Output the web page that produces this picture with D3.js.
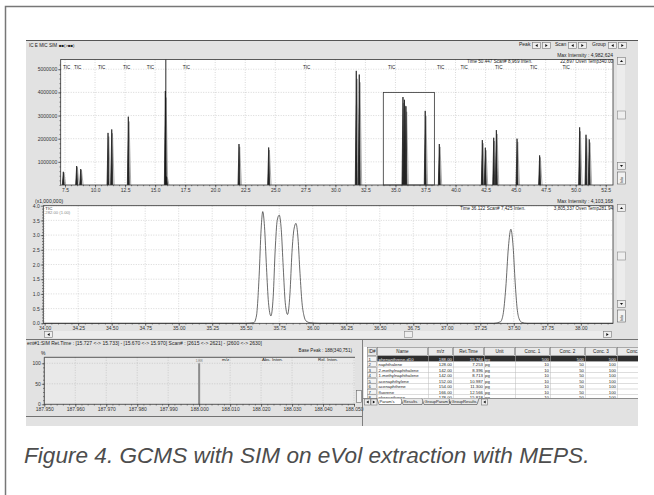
<!DOCTYPE html>
<html>
<head>
<meta charset="utf-8">
<script src="https://cdn.jsdelivr.net/npm/d3@7"></script>
<style>
  body { margin: 0; background: #fff; }
  svg { display: block; }
  text { font-family: "Liberation Sans", Arial, sans-serif; }
</style>
</head>
<body>
<div id="chart"></div>
<script>
// ---------------- data ----------------
// TIC chromatogram peaks (retention time in min, intensity in counts)
const ticTimes   = [7.36, 8.47, 8.81, 11.08, 11.39, 12.77, 15.85, 15.95, 21.98, 24.45, 31.74, 31.99,
                    35.627, 35.75, 35.875, 37.478, 38.65, 42.23, 42.48, 43.18, 43.40, 45.12, 47.0, 50.33, 50.86, 51.13];
const ticHeights = [570000, 820000, 690000, 2250000, 2400000, 2950000, 4060000, 360000, 1770000, 1620000, 4930000, 4770000,
                    3800000, 3680000, 3400000, 3200000, 1770000, 1940000, 1610000, 2040000, 2370000, 2000000, 1280000, 2490000, 2170000, 1970000];
const ticLabelTimes = [7.33, 8.25, 10.25, 12.33, 14.3, 17.3, 27.3, 34.38, 38.46, 40.41, 43.29, 46.2, 48.9];
const topXTicks = [7.5, 10, 12.5, 15, 17.5, 20, 22.5, 25, 27.5, 30, 32.5, 35, 37.5, 40, 42.5, 45, 47.5, 50, 52.5];
const topYTicks = [1000000, 2000000, 3000000, 4000000, 5000000];
const cursorTime = 15.89;
const zoomWindow = [33.99, 38.24];
const zoomMaxInten = 4000000;

// zoomed trace (x1,000,000)
const zoomTime  = [33.99, 35.50, 35.56, 35.58, 35.60, 35.615, 35.627, 35.64, 35.655, 35.67, 35.688, 35.705, 35.72, 35.735, 35.75,
                   35.765, 35.78, 35.795, 35.812, 35.83, 35.845, 35.86, 35.875, 35.89, 35.905, 35.92, 35.935, 35.95, 35.98, 36.05,
                   37.35, 37.40, 37.42, 37.44, 37.46, 37.478, 37.495, 37.51, 37.525, 37.54, 37.56, 37.60, 38.24];
const zoomInten = [0, 0, 0.02, 0.25, 1.6, 3.2, 3.80, 3.3, 1.9, 0.7, 0.25, 0.9, 2.5, 3.5, 3.68,
                   3.2, 1.9, 0.7, 0.3, 1.0, 2.4, 3.2, 3.40, 2.9, 1.7, 0.7, 0.25, 0.08, 0.02, 0,
                   0, 0.05, 0.3, 1.2, 2.6, 3.20, 2.6, 1.4, 0.5, 0.15, 0.03, 0, 0];
const zoomXTicks = [34.00, 34.25, 34.50, 34.75, 35.00, 35.25, 35.50, 35.75, 36.00, 36.25, 36.50, 36.75, 37.00, 37.25, 37.50, 37.75, 38.00];
const zoomYTicks = [0, 0.5, 1.0, 1.5, 2.0, 2.5, 3.0, 3.5, 4.0];

// mass spectrum
const specMz = [188.000];
const specRel = [100];
const specXTicks = [187.950, 187.960, 187.970, 187.980, 187.990, 188.000, 188.010, 188.020, 188.030, 188.040, 188.050];
const specYTicks = [0, 50, 100];

// compound table
const colHeads = ["ID#", "Name", "m/z", "Ret.Time", "Unit", "Conc. 1", "Conc. 2", "Conc. 3", "Conc. 4"];
const tableNames = ["phenanthrene-d10", "naphthalene", "2-methylnaphthalene", "1-methylnaphthalene", "acenaphthylene", "acenaphthene", "fluorene", "phenanthrene"];
const tableMz    = ["188.00", "128.00", "142.00", "142.00", "152.00", "154.00", "166.00", "178.00"];
const tableRt    = ["15.764", "7.253", "8.396", "8.713", "10.987", "11.300", "12.566", "15.818"];
const tableUnit  = ["pg", "pg", "pg", "pg", "pg", "pg", "pg", "pg"];
const tableConc1 = ["500", "10", "10", "10", "10", "10", "10", "10"];
const tableConc2 = ["500", "50", "50", "50", "50", "50", "50", "50"];
const tableConc3 = ["500", "100", "100", "100", "100", "100", "100", "100"];
const tabNames = ["Param's", "Results", "GroupParam's", "GroupResults"];

// ---------------- drawing ----------------
const W = 654, H = 495;
const svg = d3.select('#chart').append('svg').attr('width', W).attr('height', H);

// outer frame
svg.append('path').attr('d', 'M5.5,495 V6.5 H654').attr('fill', 'none').attr('stroke', '#777').attr('stroke-width', 1.5);

// screenshot area
const S = { x0: 26, x1: 638, y0: 40, y1: 426 };
svg.append('defs').append('clipPath').attr('id', 'shot')
    .append('rect').attr('x', S.x0).attr('y', S.y0).attr('width', S.x1 - S.x0).attr('height', S.y1 - S.y0);
const shot = svg.append('g').attr('clip-path', 'url(#shot)');
shot.append('rect').attr('x', S.x0).attr('y', S.y0).attr('width', S.x1 - S.x0).attr('height', S.y1 - S.y0).attr('fill', '#e2e2e2');
shot.append('line').attr('x1', S.x0).attr('x2', S.x1).attr('y1', S.y0 + 0.5).attr('y2', S.y0 + 0.5).attr('stroke', '#555');

const fs = 5; // tiny UI font
function txt(g, x, y, s, opts = {}) {
    return g.append('text').attr('x', x).attr('y', y).text(s)
        .attr('font-size', opts.size || fs)
        .attr('fill', opts.fill || '#222')
        .attr('text-anchor', opts.anchor || 'start');
}
function button(g, x, y, w, h, glyph) {
    g.append('rect').attr('x', x + 0.5).attr('y', y + 0.5).attr('width', w).attr('height', h)
        .attr('fill', '#eeeeee').attr('stroke', '#777').attr('stroke-width', 0.6);
    const cx = x + w / 2 + 0.5, cy = y + h / 2 + 0.5;
    let d = null;
    if (glyph === 'l') d = `M${cx + 1.2},${cy - 1.5} L${cx - 1.2},${cy} L${cx + 1.2},${cy + 1.5}Z`;
    if (glyph === 'r') d = `M${cx - 1.2},${cy - 1.5} L${cx + 1.2},${cy} L${cx - 1.2},${cy + 1.5}Z`;
    if (glyph === 'u') d = `M${cx - 1.5},${cy + 1} L${cx},${cy - 1} L${cx + 1.5},${cy + 1}Z`;
    if (glyph === 'd') d = `M${cx - 1.5},${cy - 1} L${cx},${cy + 1} L${cx + 1.5},${cy - 1}Z`;
    if (d) g.append('path').attr('d', d).attr('fill', '#111');
}
function styleAxis(a) {
    a.attr('font-size', fs).attr('font-family', '"Liberation Sans", Arial, sans-serif');
    a.select('.domain').remove();
    a.selectAll('line').attr('stroke', '#333').attr('stroke-width', 0.6);
    a.selectAll('text').attr('fill', '#333');
}
function vscroll(g, x, y0, y1, thumbY, iconY) {
    g.append('rect').attr('x', x).attr('y', y0).attr('width', 8).attr('height', y1 - y0).attr('fill', '#ececec');
    button(g, x, y0, 8, 7, 'u');
    g.append('rect').attr('x', x + 0.5).attr('y', thumbY).attr('width', 8).attr('height', 8)
        .attr('fill', '#efefef').attr('stroke', '#888').attr('stroke-width', 0.6);
    button(g, x, y1 - 8, 8, 7, 'd');
    g.append('rect').attr('x', x + 0.5).attr('y', iconY).attr('width', 8).attr('height', 12)
        .attr('fill', '#f2f2f2').attr('stroke', '#666').attr('stroke-width', 0.6);
    g.append('text').attr('transform', `translate(${x + 6},${iconY + 11}) rotate(-90)`).text('lolx')
        .attr('font-size', 4).attr('fill', '#333');
}

// ---- header bar ----
txt(shot, 29, 47, 'IC E MIC   SIM', { size: 4.6 });
txt(shot, 59, 47, '■■(>■■)', { size: 4.2 });
txt(shot, 519, 46, 'Peak');
button(shot, 532, 42, 8, 6, 'l'); button(shot, 542, 42, 8, 6, 'r');
txt(shot, 555, 46, 'Scan');
button(shot, 568, 42, 8, 6, 'l'); button(shot, 578, 42, 8, 6, 'r');
txt(shot, 592, 46, 'Group');
button(shot, 608, 42, 8, 6, 'l'); button(shot, 618, 42, 8, 6, 'r');

// ---- top TIC panel ----
const ticP = { l: 60.7, r: 613, t: 59.5, b: 185 };
const xTop = d3.scaleLinear().domain([7.142, 53.106]).range([ticP.l, ticP.r]);
const yTop = d3.scaleLinear().domain([0, 5420000]).range([ticP.b, ticP.t]);
shot.append('rect').attr('x', ticP.l).attr('y', ticP.t).attr('width', ticP.r - ticP.l).attr('height', ticP.b - ticP.t).attr('fill', '#fff');

const gridTop = shot.append('g').attr('stroke', '#bdbdbd').attr('stroke-width', 0.6).attr('stroke-dasharray', '1,1.5');
gridTop.selectAll('.v').data(topXTicks).enter().append('line')
    .attr('x1', d => xTop(d)).attr('x2', d => xTop(d)).attr('y1', ticP.t).attr('y2', ticP.b);
gridTop.selectAll('.h').data(topYTicks).enter().append('line')
    .attr('x1', ticP.l).attr('x2', ticP.r).attr('y1', d => yTop(d)).attr('y2', d => yTop(d));

txt(shot, ticP.r, 56.5, 'Max Intensity : 4,982,624', { anchor: 'end' });
txt(shot, 467, 63, 'Time  50.447    Scan# 8,969    Inten.', { size: 4.6 });
txt(shot, ticP.r, 63, '22,897    Oven Temp340.00', { anchor: 'end', size: 4.6 });
shot.selectAll('.ticlab').data(ticLabelTimes).enter().append('text')
    .attr('x', d => xTop(d)).attr('y', 68.5).text('TIC')
    .attr('font-size', 4.6).attr('fill', '#222');

// peaks: gray companion trace + dark trace
const peakLine = d3.line().x(d => xTop(d[0])).y(d => yTop(d[1]));
shot.append('g').selectAll('path').data(ticTimes).enter().append('path')
    .attr('d', (t, i) => peakLine([[t - 0.05, 0], [t + 0.06, ticHeights[i] * 0.93], [t + 0.2, 0]]))
    .attr('fill', 'none').attr('stroke', '#9a9a9a').attr('stroke-width', 0.8);
shot.append('g').selectAll('path').data(ticTimes).enter().append('path')
    .attr('d', (t, i) => peakLine([[t - 0.08, 0], [t, ticHeights[i]], [t + 0.08, 0]]))
    .attr('fill', '#222').attr('stroke', '#222').attr('stroke-width', 0.8);

// cursor and zoom box
shot.append('line').attr('x1', xTop(cursorTime)).attr('x2', xTop(cursorTime)).attr('y1', ticP.t).attr('y2', ticP.b)
    .attr('stroke', '#111').attr('stroke-width', 0.9);
shot.append('rect').attr('x', xTop(zoomWindow[0])).attr('y', yTop(zoomMaxInten))
    .attr('width', xTop(zoomWindow[1]) - xTop(zoomWindow[0])).attr('height', yTop(0) - yTop(zoomMaxInten))
    .attr('fill', 'none').attr('stroke', '#333').attr('stroke-width', 0.8);

shot.append('rect').attr('x', ticP.l).attr('y', ticP.t).attr('width', ticP.r - ticP.l).attr('height', ticP.b - ticP.t)
    .attr('fill', 'none').attr('stroke', '#333').attr('stroke-width', 0.8);
const axTopX = shot.append('g').attr('transform', `translate(0,${ticP.b})`)
    .call(d3.axisBottom(xTop).tickValues(topXTicks).tickFormat(d3.format('.1f')).tickSize(2.5).tickPadding(1));
styleAxis(axTopX);
const axTopXm = shot.append('g').attr('transform', `translate(0,${ticP.b})`)
    .call(d3.axisBottom(xTop).tickValues(d3.range(7.5, 53, 0.5)).tickFormat('').tickSize(1.2));
styleAxis(axTopXm);
const axTopY = shot.append('g').attr('transform', `translate(${ticP.l},0)`)
    .call(d3.axisLeft(yTop).tickValues(topYTicks).tickFormat(d3.format('d')).tickSize(2.5).tickPadding(1));
styleAxis(axTopY);
const axTopYm = shot.append('g').attr('transform', `translate(${ticP.l},0)`)
    .call(d3.axisLeft(yTop).tickValues(d3.range(0, 5400000, 200000)).tickFormat('').tickSize(1.2));
styleAxis(axTopYm);
vscroll(shot, 617, 57, 170, 111, 172);

// ---- middle zoom panel ----
const mid = { l: 43.3, r: 613, t: 205.7, b: 323.3 };
const xMid = d3.scaleLinear().domain(zoomWindow).range([mid.l, mid.r]);
const yMid = d3.scaleLinear().domain([0, 4.0]).range([mid.b, mid.t]);
shot.append('rect').attr('x', mid.l).attr('y', mid.t).attr('width', mid.r - mid.l).attr('height', mid.b - mid.t).attr('fill', '#fff');
const gridMid = shot.append('g').attr('stroke', '#bdbdbd').attr('stroke-width', 0.6).attr('stroke-dasharray', '1,1.5');
gridMid.selectAll('.v').data(zoomXTicks).enter().append('line')
    .attr('x1', d => xMid(d)).attr('x2', d => xMid(d)).attr('y1', mid.t).attr('y2', mid.b);
gridMid.selectAll('.h').data(zoomYTicks.slice(1)).enter().append('line')
    .attr('x1', mid.l).attr('x2', mid.r).attr('y1', d => yMid(d)).attr('y2', d => yMid(d));

const zoomLine = d3.line().x(d => xMid(d[0])).y(d => yMid(d[1])).curve(d3.curveMonotoneX);
shot.append('path').attr('d', zoomLine(zoomTime.map((t, i) => [t, zoomInten[i]])))
    .attr('fill', 'none').attr('stroke', '#444').attr('stroke-width', 0.8);

shot.append('rect').attr('x', mid.l).attr('y', mid.t).attr('width', mid.r - mid.l).attr('height', mid.b - mid.t)
    .attr('fill', 'none').attr('stroke', '#333').attr('stroke-width', 0.8);
txt(shot, 35, 202.5, '(x1,000,000)');
txt(shot, mid.l + 2, 209.8, 'TIC', { size: 4.4 });
txt(shot, mid.l + 2, 214.3, '282.00 (1.00)', { fill: '#888', size: 4.2 });
txt(shot, mid.r, 202.5, 'Max Intensity : 4,103,168', { anchor: 'end' });
txt(shot, 460, 210, 'Time  36.122    Scan# 7,425    Inten.', { size: 4.6 });
txt(shot, mid.r, 210, '3,805,337    Oven Temp281.94', { anchor: 'end', size: 4.6 });

const axMidX = shot.append('g').attr('transform', `translate(0,${mid.b})`)
    .call(d3.axisBottom(xMid).tickValues(zoomXTicks).tickFormat(d3.format('.2f')).tickSize(2.5).tickPadding(1));
styleAxis(axMidX);
const axMidXm = shot.append('g').attr('transform', `translate(0,${mid.b})`)
    .call(d3.axisBottom(xMid).tickValues(d3.range(34.0, 38.24, 0.05)).tickFormat('').tickSize(1.2));
styleAxis(axMidXm);
const axMidY = shot.append('g').attr('transform', `translate(${mid.l},0)`)
    .call(d3.axisLeft(yMid).tickValues(zoomYTicks).tickFormat(d3.format('.1f')).tickSize(2.5).tickPadding(1));
styleAxis(axMidY);
const axMidYm = shot.append('g').attr('transform', `translate(${mid.l},0)`)
    .call(d3.axisLeft(yMid).tickValues(d3.range(0, 4.0, 0.1)).tickFormat('').tickSize(1.2));
styleAxis(axMidYm);
vscroll(shot, 617, 204, 308, 252, 310);
// horizontal scrollbar
shot.append('rect').attr('x', 44).attr('y', 331).attr('width', 567).attr('height', 7).attr('fill', '#ececec');
button(shot, 44, 331, 8, 6, 'l');
button(shot, 603, 331, 8, 6, 'r');
shot.append('rect').attr('x', 404.5).attr('y', 331.5).attr('width', 8).attr('height', 6)
    .attr('fill', '#efefef').attr('stroke', '#888').attr('stroke-width', 0.6);

// ---- bottom panels ----
shot.append('line').attr('x1', S.x0).attr('x2', S.x1).attr('y1', 339.5).attr('y2', 339.5).attr('stroke', '#555').attr('stroke-width', 0.8);
txt(shot, 27, 345, 'ent#1:SIM   Ret.Time : [15.727 <-> 15.733] - [15.670 <-> 15.970]   Scan# : [2615 <-> 2621] - [2600 <-> 2630]');

const spec = { l: 44.3, r: 355, t: 357.3, b: 404.3 };
const xSpec = d3.scaleLinear().domain([187.95, 188.05]).range([spec.l, spec.r - 1]);
const ySpec = d3.scaleLinear().domain([0, 114.6]).range([spec.b, spec.t]);
shot.append('rect').attr('x', spec.l).attr('y', spec.t).attr('width', spec.r - spec.l).attr('height', spec.b - spec.t).attr('fill', '#e9e9e9');
const gridSpec = shot.append('g').attr('stroke', '#b8b8b8').attr('stroke-width', 0.6).attr('stroke-dasharray', '1,1.5');
gridSpec.selectAll('.v').data(specXTicks).enter().append('line')
    .attr('x1', d => xSpec(d)).attr('x2', d => xSpec(d)).attr('y1', spec.t).attr('y2', spec.b);
gridSpec.selectAll('.h').data(specYTicks.slice(1)).enter().append('line')
    .attr('x1', spec.l).attr('x2', spec.r).attr('y1', d => ySpec(d)).attr('y2', d => ySpec(d));
shot.selectAll('.bar').data(specMz).enter().append('rect')
    .attr('x', d => xSpec(d) - 1).attr('width', 2)
    .attr('y', (d, i) => ySpec(specRel[i])).attr('height', (d, i) => ySpec(0) - ySpec(specRel[i]))
    .attr('fill', '#8c8c8c');
shot.selectAll('.barlab').data(specMz).enter().append('text')
    .attr('x', d => xSpec(d)).attr('y', (d, i) => ySpec(specRel[i]) - 0.8).text(d => d3.format('d')(d))
    .attr('font-size', 4.4).attr('fill', '#888').attr('text-anchor', 'middle');
shot.append('path').attr('d', `M${spec.l},${spec.b} V${spec.t} H${spec.r}`).attr('fill', 'none').attr('stroke', '#333').attr('stroke-width', 0.8);
shot.append('line').attr('x1', spec.l).attr('x2', spec.r).attr('y1', spec.b).attr('y2', spec.b).attr('stroke', '#333').attr('stroke-width', 0.8);
txt(shot, 41, 354.5, '%');
txt(shot, 352, 352, 'Base Peak : 188(340,751)', { anchor: 'end', size: 4.6 });
txt(shot, 222, 361, 'm/z', { size: 4.4 });
txt(shot, 262, 361, 'Abs. Inten.', { size: 4.4 });
txt(shot, 318, 361, 'Rel. Inten.', { size: 4.4 });
const axSpecX = shot.append('g').attr('transform', `translate(0,${spec.b})`)
    .call(d3.axisBottom(xSpec).tickValues(specXTicks).tickFormat(d3.format('.3f')).tickSize(2.5).tickPadding(1));
styleAxis(axSpecX);
const axSpecXm = shot.append('g').attr('transform', `translate(0,${spec.b})`)
    .call(d3.axisBottom(xSpec).tickValues(d3.range(187.95, 188.0505, 0.002)).tickFormat('').tickSize(1.2));
styleAxis(axSpecXm);
const axSpecY = shot.append('g').attr('transform', `translate(${spec.l},0)`)
    .call(d3.axisLeft(ySpec).tickValues(specYTicks).tickFormat(d3.format('d')).tickSize(2.5).tickPadding(1));
styleAxis(axSpecY);
const axSpecYm = shot.append('g').attr('transform', `translate(${spec.l},0)`)
    .call(d3.axisLeft(ySpec).tickValues(d3.range(0, 110, 10)).tickFormat('').tickSize(1.2));
styleAxis(axSpecYm);
shot.append('rect').attr('x', 356.5).attr('y', 390.5).attr('width', 5).attr('height', 12)
    .attr('fill', '#f2f2f2').attr('stroke', '#666').attr('stroke-width', 0.6);
shot.append('line').attr('x1', S.x0).attr('x2', 362).attr('y1', 416.5).attr('y2', 416.5).attr('stroke', '#555').attr('stroke-width', 0.8);
shot.append('line').attr('x1', 362.5).attr('x2', 362.5).attr('y1', 340).attr('y2', S.y1).attr('stroke', '#666').attr('stroke-width', 0.8);

// ---- compound table ----
const colEdges = [367, 377, 428, 453, 484, 515, 550, 585, 617, 652];
const headY = 347, headH = 9, rowH = 5.5, rowY0 = 356;
const tbl = shot.append('g');
tbl.append('rect').attr('x', 364).attr('y', headY).attr('width', 280).attr('height', 51).attr('fill', '#fff');
// header
tbl.selectAll('.hc').data(colHeads).enter().append('rect')
    .attr('x', (d, i) => colEdges[i] + 0.5).attr('y', headY + 0.5)
    .attr('width', (d, i) => colEdges[i + 1] - colEdges[i] - 1).attr('height', headH - 1)
    .attr('fill', '#e9e9e9').attr('stroke', '#777').attr('stroke-width', 0.6);
tbl.selectAll('.ht').data(colHeads).enter().append('text')
    .attr('x', (d, i) => (colEdges[i] + colEdges[i + 1]) / 2).attr('y', headY + 6.2).text(d => d)
    .attr('font-size', 4.6).attr('fill', '#222').attr('text-anchor', 'middle');
// rows
const rows = tableNames.map((n, i) => ({ n, i }));
const rowG = tbl.selectAll('.row').data(rows).enter().append('g')
    .attr('transform', d => `translate(0,${rowY0 + d.i * rowH})`);
rowG.filter(d => d.i === 0).append('rect').attr('x', 377).attr('y', 0).attr('width', 270).attr('height', rowH)
    .attr('fill', '#2e2e2e');
rowG.append('line').attr('x1', 367).attr('x2', 654).attr('y1', rowH).attr('y2', rowH)
    .attr('stroke', '#bbb').attr('stroke-width', 0.5);
rowG.append('rect').attr('x', 367.5).attr('y', 0.3).attr('width', 9).attr('height', rowH - 0.6)
    .attr('fill', '#f4f4f4').attr('stroke', '#888').attr('stroke-width', 0.5);
rowG.append('text').attr('x', 368.5).attr('y', rowH - 1).text(d => d.i + 1).attr('font-size', 4.3).attr('fill', '#222');
const cellCol = d => d.i === 0 ? '#eee' : '#222';
rowG.append('text').attr('x', 378.5).attr('y', rowH - 1).text(d => d.n).attr('font-size', 4.3).attr('fill', cellCol);
rowG.append('text').attr('x', 452).attr('y', rowH - 1).text(d => tableMz[d.i]).attr('font-size', 4.3).attr('fill', cellCol).attr('text-anchor', 'end');
rowG.append('text').attr('x', 483).attr('y', rowH - 1).text(d => tableRt[d.i]).attr('font-size', 4.3).attr('fill', cellCol).attr('text-anchor', 'end');
rowG.append('text').attr('x', 485).attr('y', rowH - 1).text(d => tableUnit[d.i]).attr('font-size', 4.3).attr('fill', cellCol);
rowG.append('text').attr('x', 549).attr('y', rowH - 1).text(d => tableConc1[d.i]).attr('font-size', 4.3).attr('fill', cellCol).attr('text-anchor', 'end');
rowG.append('text').attr('x', 584).attr('y', rowH - 1).text(d => tableConc2[d.i]).attr('font-size', 4.3).attr('fill', cellCol).attr('text-anchor', 'end');
rowG.append('text').attr('x', 616).attr('y', rowH - 1).text(d => tableConc3[d.i]).attr('font-size', 4.3).attr('fill', cellCol).attr('text-anchor', 'end');
// column separators
tbl.selectAll('.cs').data(colEdges.slice(1, -1)).enter().append('line')
    .attr('x1', d => d + 0.5).attr('x2', d => d + 0.5).attr('y1', rowY0).attr('y2', 398)
    .attr('stroke', '#bbb').attr('stroke-width', 0.5);
// tab bar
tbl.append('rect').attr('x', 363).attr('y', 398).attr('width', 280).attr('height', 7).attr('fill', '#e2e2e2');
tbl.append('line').attr('x1', 363).attr('x2', 640).attr('y1', 398.5).attr('y2', 398.5).attr('stroke', '#555').attr('stroke-width', 0.6);
button(tbl, 364, 398.5, 6, 6, 'l');
button(tbl, 370.5, 398.5, 6, 6, 'r');
const tabEdges = [377, 401, 422, 449, 477];
tbl.selectAll('.tab').data(tabNames).enter().append('path')
    .attr('d', (d, i) => `M${tabEdges[i]},398.5 L${tabEdges[i] + 2},404.5 L${tabEdges[i + 1]},404.5 L${tabEdges[i + 1] + 2},398.5`)
    .attr('fill', (d, i) => i === 0 ? '#fff' : '#e8e8e8').attr('stroke', '#444').attr('stroke-width', 0.6);
tbl.selectAll('.tabt').data(tabNames).enter().append('text')
    .attr('x', (d, i) => tabEdges[i] + 2.6).attr('y', 403.3).text(d => d)
    .attr('font-size', 4.1).attr('fill', '#222');
button(tbl, 481, 398.5, 6, 6, 'l');

// ---- caption ----
svg.append('text').attr('x', 24).attr('y', 463)
    .text('Figure 4. GCMS with SIM on eVol extraction with MEPS.')
    .attr('font-size', 22.6).attr('font-style', 'italic').attr('fill', '#4d4d4d');
</script>
</body>
</html>
